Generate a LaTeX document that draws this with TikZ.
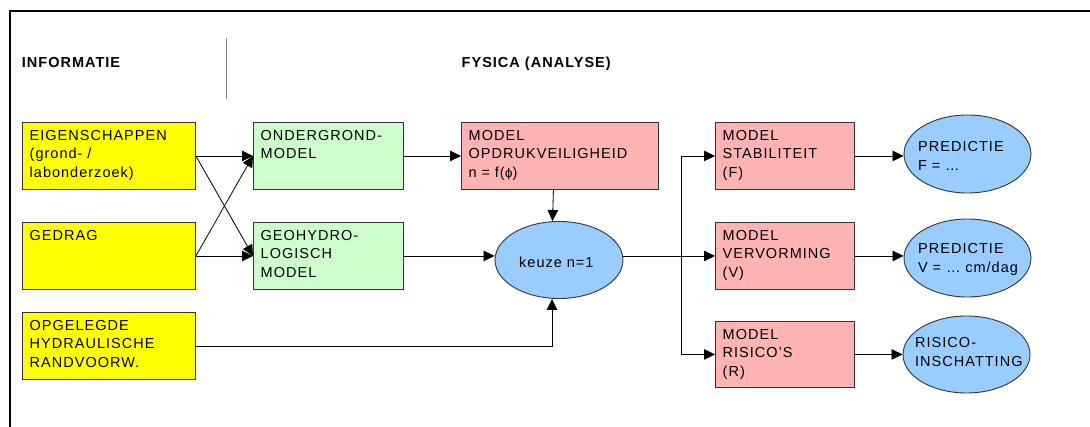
\documentclass[tikz,border=0pt]{standalone}
\usepackage{fontspec}
\setmainfont{Liberation Sans}[LetterSpace=7]
\newfontfamily\symfont{DejaVu Sans}
\usetikzlibrary{arrows.meta,shapes.geometric}
\definecolor{ylw}{HTML}{FFFF00}
\definecolor{grn}{HTML}{CCFFCC}
\definecolor{pnk}{HTML}{FFB3B3}
\definecolor{blu}{HTML}{99CCFF}
\definecolor{edgec}{HTML}{333333}
\definecolor{sepc}{HTML}{7F7F7F}
\begin{document}
\begin{tikzpicture}[x=1pt,y=-1pt,
  font=\fontsize{14.5}{18.3}\selectfont,
  box/.style 2 args={draw=edgec, line width=0.9pt, inner sep=0, anchor=north west,
    minimum width=#1pt, minimum height=#2pt},
  ell/.style={ellipse, draw=edgec, fill=blu, line width=0.9pt, inner sep=0},
  btxt/.style={anchor=base west, inner sep=0, align=left, text width=190pt},
  ltxt/.style={anchor=base west, inner sep=0, align=left, text width=150pt},
  head/.style={anchor=base west, inner sep=0, font=\fontsize{14.5}{18.3}\selectfont\bfseries},
  arr/.style={draw=black, line width=0.8pt, -{Triangle[length=11pt,width=10.5pt]}},
  ln/.style={draw=black, line width=0.8pt}]
\useasboundingbox (0,0) rectangle (1090,427);
% frame
\draw[line width=2.3pt] (9.7,428) -- (9.7,10.7) -- (1091,10.7);
\draw[sepc, line width=1pt] (226,38) -- (226,99);
\node[head] (info) at (21.7,68) {INFORMATIE};
\node[head] (fys) at (461.5,68) {FYSICA (ANALYSE)};
% boxes
\node[box={173}{67}, fill=ylw] (eig) at (22,122) {};
\node[box={173}{67}, fill=ylw] (ged) at (22,222) {};
\node[box={173}{67}, fill=ylw] (opg) at (22,312) {};
\node[box={150}{67}, fill=grn] (ond) at (253,122) {};
\node[box={150}{67}, fill=grn] (geo) at (253,222) {};
\node[box={197}{67}, fill=pnk] (opd) at (461,122) {};
\node[box={139}{67}, fill=pnk] (stab) at (715,122) {};
\node[box={139}{67}, fill=pnk] (verv) at (715,222) {};
\node[box={139}{66}, fill=pnk] (ris) at (715,321) {};
% box texts
\node[btxt] (eigT) at ([shift={(7.5,18.7)}]eig.north west) {EIGENSCHAPPEN\\(grond- /\\labonderzoek)};
\node[btxt] (gedT) at ([shift={(7.5,18.7)}]ged.north west) {GEDRAG};
\node[btxt] (opgT) at ([shift={(7.5,18.7)}]opg.north west) {OPGELEGDE\\HYDRAULISCHE\\RANDVOORW.};
\node[btxt] (ondT) at ([shift={(7.5,18.7)}]ond.north west) {ONDERGROND-\\MODEL};
\node[btxt] (geoT) at ([shift={(7.5,18.7)}]geo.north west) {GEOHYDRO-\\LOGISCH\\MODEL};
\node[btxt] (opdT) at ([shift={(7.5,18.7)}]opd.north west) {MODEL\\OPDRUKVEILIGHEID\\n = f({\symfont\fontsize{12}{14}\selectfont ϕ})};
\node[btxt] (stabT) at ([shift={(7.5,18.7)}]stab.north west) {MODEL\\STABILITEIT\\(F)};
\node[btxt] (vervT) at ([shift={(7.5,18.7)}]verv.north west) {MODEL\\VERVORMING\\(V)};
\node[btxt] (risT) at ([shift={(7.5,18.7)}]ris.north west) {MODEL\\RISICO'S\\(R)};
% ellipses
\node[ell, minimum width=128pt, minimum height=77pt] (keuze) at (559,260) {};
\node[ell, minimum width=127pt, minimum height=78pt] (predF) at (967.5,154) {};
\node[ell, minimum width=127pt, minimum height=78pt] (predV) at (967.5,258) {};
\node[ell, minimum width=127pt, minimum height=77pt] (risc) at (966.5,354.5) {};
\node[ltxt] (keuzeT) at (519,268) {keuze n=1};
\node[ltxt] (predFT) at (918,152) {PREDICTIE\\F = …};
\node[ltxt] (predVT) at (918,254) {PREDICTIE\\V = … cm/dag};
\node[ltxt] (riscT) at (915,348) {RISICO-\\INSCHATTING};
% connectors
\draw[arr] (eig.east) -- (ond.west);
\draw[arr] (eig.east) -- (geo.west);
\draw[arr] (ged.east) -- (ond.west);
\draw[arr] (ged.east) -- (geo.west);
\draw[arr] (ond.east) -- (opd.west);
\draw[arr] (geo.east) -- (geo.east -| keuze.west);
\draw[arr] ([xshift=-6.5pt]opd.south) -- ([xshift=-6.5pt]keuze.north);
\draw[arr] (opg.east) -| ([xshift=-7pt]keuze.south);
\coordinate (split) at (681,255);
\draw[arr] (verv.west -| keuze.east) -- (verv.west);
\draw[arr] (stab.west -| split) -- (ris.west -| split) -- (ris.west);
\draw[arr] (stab.west -| split) -- (stab.west);
\draw[arr] (stab.east) -- (stab.east -| predF.west);
\draw[arr] (verv.east) -- (verv.east -| predV.west);
\draw[arr] (ris.east) -- (ris.east -| risc.west);
\end{tikzpicture}
\end{document}
